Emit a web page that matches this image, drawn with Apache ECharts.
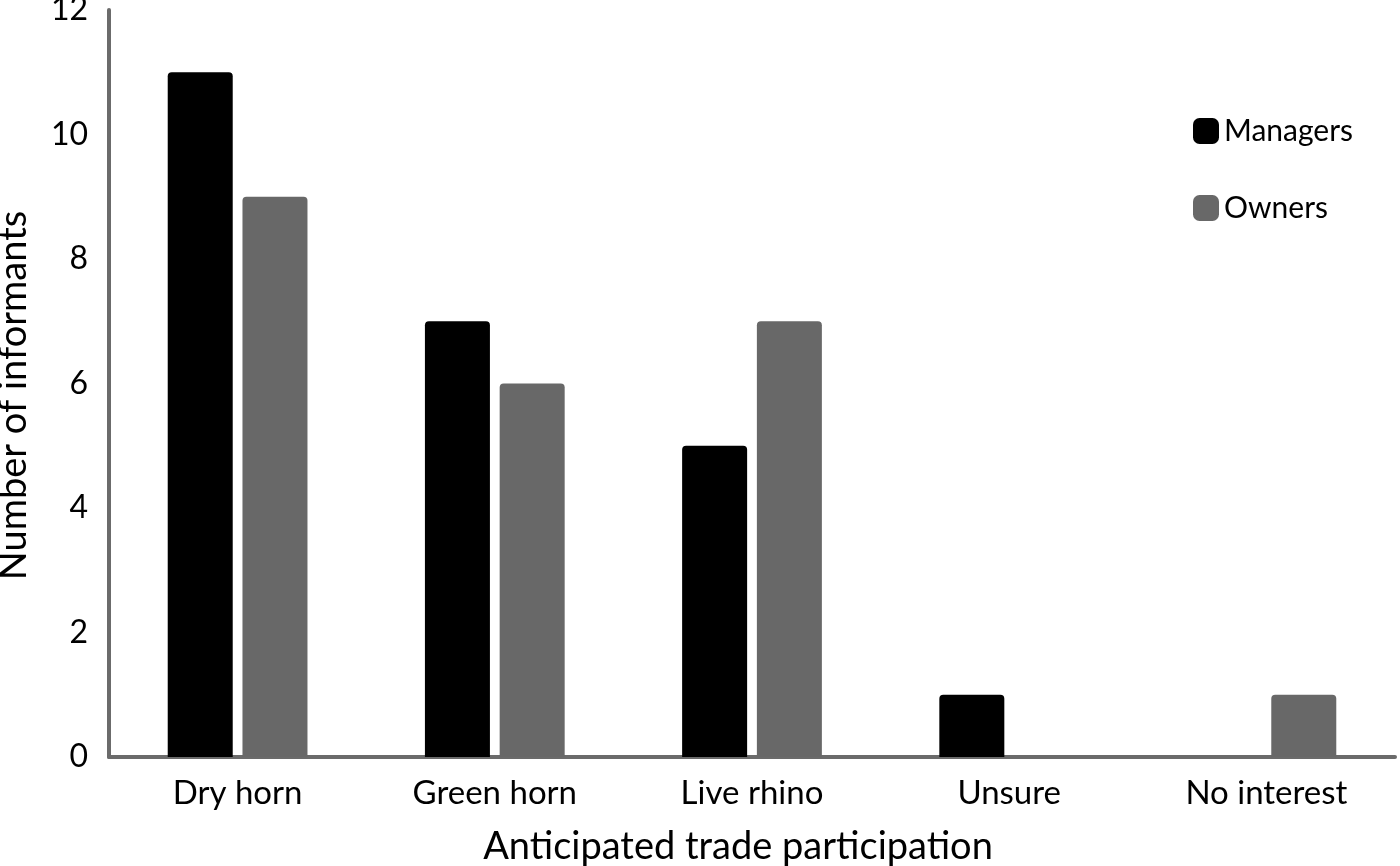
<!DOCTYPE html>
<html><head><meta charset="utf-8">
<script src="https://cdn.jsdelivr.net/npm/echarts@6/dist/echarts.min.js"></script>
<style>html,body{margin:0;padding:0;background:#fff}#c{width:1400px;height:866px}</style>
</head><body><div id="c"></div>
<script>
const categories = ['Dry horn', 'Green horn', 'Live rhino', 'Unsure', 'No interest'];
const managers = [11, 7, 5, 1, 0];
const owners = [9, 6, 7, 0, 1];
const yTicks = [0, 2, 4, 6, 8, 10, 12];

const FONT = 'Lato';
const chart = echarts.init(document.getElementById('c'), null, {renderer: 'canvas'});
chart.setOption({
  animation: false,
  backgroundColor: '#ffffff',
  textStyle: {fontFamily: FONT},
  grid: {left: 109, right: 5, top: 10, bottom: 109, containLabel: false, outerBoundsMode: 'none'},
  legend: {
    orient: 'vertical', left: 1188, top: 111, itemGap: 47,
    itemWidth: 26, itemHeight: 26, icon: 'roundRect',
    textStyle: {fontFamily: FONT, fontSize: 30, color: '#000'},
    data: ['Managers', 'Owners']
  },
  xAxis: {
    type: 'category', data: categories,
    name: 'Anticipated trade participation', nameLocation: 'middle', nameGap: 71,
    nameTextStyle: {fontFamily: FONT, fontSize: 38, color: '#000', padding: [0, 28, 0, 0]},
    axisLine: {lineStyle: {color: '#6b6b6b', width: 4, cap: 'round'}},
    axisTick: {show: false},
    axisLabel: {fontFamily: FONT, fontSize: 33, color: '#000', margin: 20}
  },
  yAxis: {
    type: 'value', min: yTicks[0], max: yTicks[yTicks.length - 1], interval: 2,
    name: 'Number of informants', nameLocation: 'middle', nameGap: 76,
    nameTextStyle: {fontFamily: FONT, fontSize: 38, color: '#000', padding: [0, 24, 0, 0]},
    axisLine: {show: true, lineStyle: {color: '#6b6b6b', width: 4, cap: 'round'}},
    axisTick: {show: false},
    splitLine: {show: false},
    axisLabel: {fontFamily: FONT, fontSize: 32, color: '#000', margin: 21, padding: [6, 0, 0, 0]}
  },
  series: [
    {name: 'Managers', type: 'bar', data: managers, barWidth: 65, barGap: '15%',
     itemStyle: {color: '#000000', borderRadius: [4, 4, 0, 0]}},
    {name: 'Owners', type: 'bar', data: owners, barWidth: 65, barGap: '15%',
     itemStyle: {color: '#686868', borderRadius: [4, 4, 0, 0]}}
  ]
});
</script></body></html>
